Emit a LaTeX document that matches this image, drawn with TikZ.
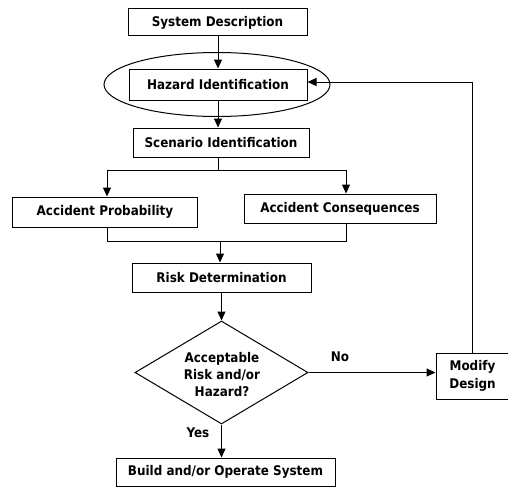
\documentclass[tikz,border=0pt]{standalone}
\usepackage{fontspec}
\setmainfont{DejaVu Sans Condensed}
\usetikzlibrary{arrows.meta,shapes.geometric}
\begin{document}
\begin{tikzpicture}[x=1pt,y=-1pt,
  line width=1pt,
  box/.style={draw, rectangle, inner sep=0pt, font=\fontsize{13.3}{16}\selectfont\bfseries},
  arr/.style={-{Triangle[length=9pt,width=8pt]}},
  lbl/.style={font=\fontsize{13.3}{16}\selectfont\bfseries, inner sep=0pt}]
\useasboundingbox (0,0) rectangle (508,487);
\clip (0,0) rectangle (508,487);
\node[box, minimum width=179pt, minimum height=27pt] (sys) at (217.5,22.5) {System Description};
\node[box, minimum width=178pt, minimum height=31pt] (haz) at (218,84.5) {Hazard Identification};
\node[draw, ellipse, inner sep=0pt, minimum width=226pt, minimum height=64pt] (ell) at (217,84.5) {};
\node[box, minimum width=176pt, minimum height=29pt] (scen) at (221,142.5) {Scenario Identification};
\node[box, minimum width=185pt, minimum height=30pt] (prob) at (105,212) {Accident Probability};
\node[box, minimum width=192pt, minimum height=29pt] (cons) at (340,208.5) {Accident Consequences};
\node[box, minimum width=179pt, minimum height=29pt] (risk) at (221.5,277.5) {Risk Determination};
\node[draw, diamond, inner sep=0pt, minimum width=173pt, minimum height=103pt] (dia) at (221.5,372.5) {};
\node[lbl, align=center, font=\fontsize{13.3}{17}\selectfont\bfseries] (diat) at (222,375) {Acceptable\\Risk and/or\\Hazard?};
\node[box, minimum width=73pt, minimum height=46pt, align=center, font=\fontsize{13.3}{18}\selectfont\bfseries] (mod) at (472.5,376) {Modify\\Design};
\node[box, minimum width=219pt, minimum height=28pt] (build) at (225.5,472) {Build and/or Operate System};
\node[lbl] (no) at (340,357) {No};
\node[lbl] (yes) at (198,433) {Yes};
\coordinate (split) at (218,170);
\coordinate (pl) at (107,170);
\coordinate (cr) at (346,170);
\coordinate (merge) at (220,241);
\coordinate (fb) at (472.5,82);
% arrows
\draw[arr] (sys.south -| 218,0) -- (haz.north -| 218,0);
\draw[arr] (haz.south -| 218,0) -- (scen.north -| 218,0);
\draw (scen.south -| split) -- (split);
\draw[arr] (pl) -- (cr) -- (cons.north -| cr);
\draw[arr] (pl) -- (prob.north -| pl);
\draw (prob.south -| pl) -- (merge -| pl) -- (merge -| cr) -- (cons.south -| cr);
\draw[arr] (merge) -- (risk.north -| merge);
\draw[arr] (risk.south -| dia.north) -- (dia.north);
\draw[arr] (dia.east) -- (dia.east -| mod.west);
\draw[arr] (mod.north) -- (fb) -- (haz.east |- fb);
\draw[arr] (dia.south) -- (dia.south |- build.north);
\end{tikzpicture}
\end{document}
